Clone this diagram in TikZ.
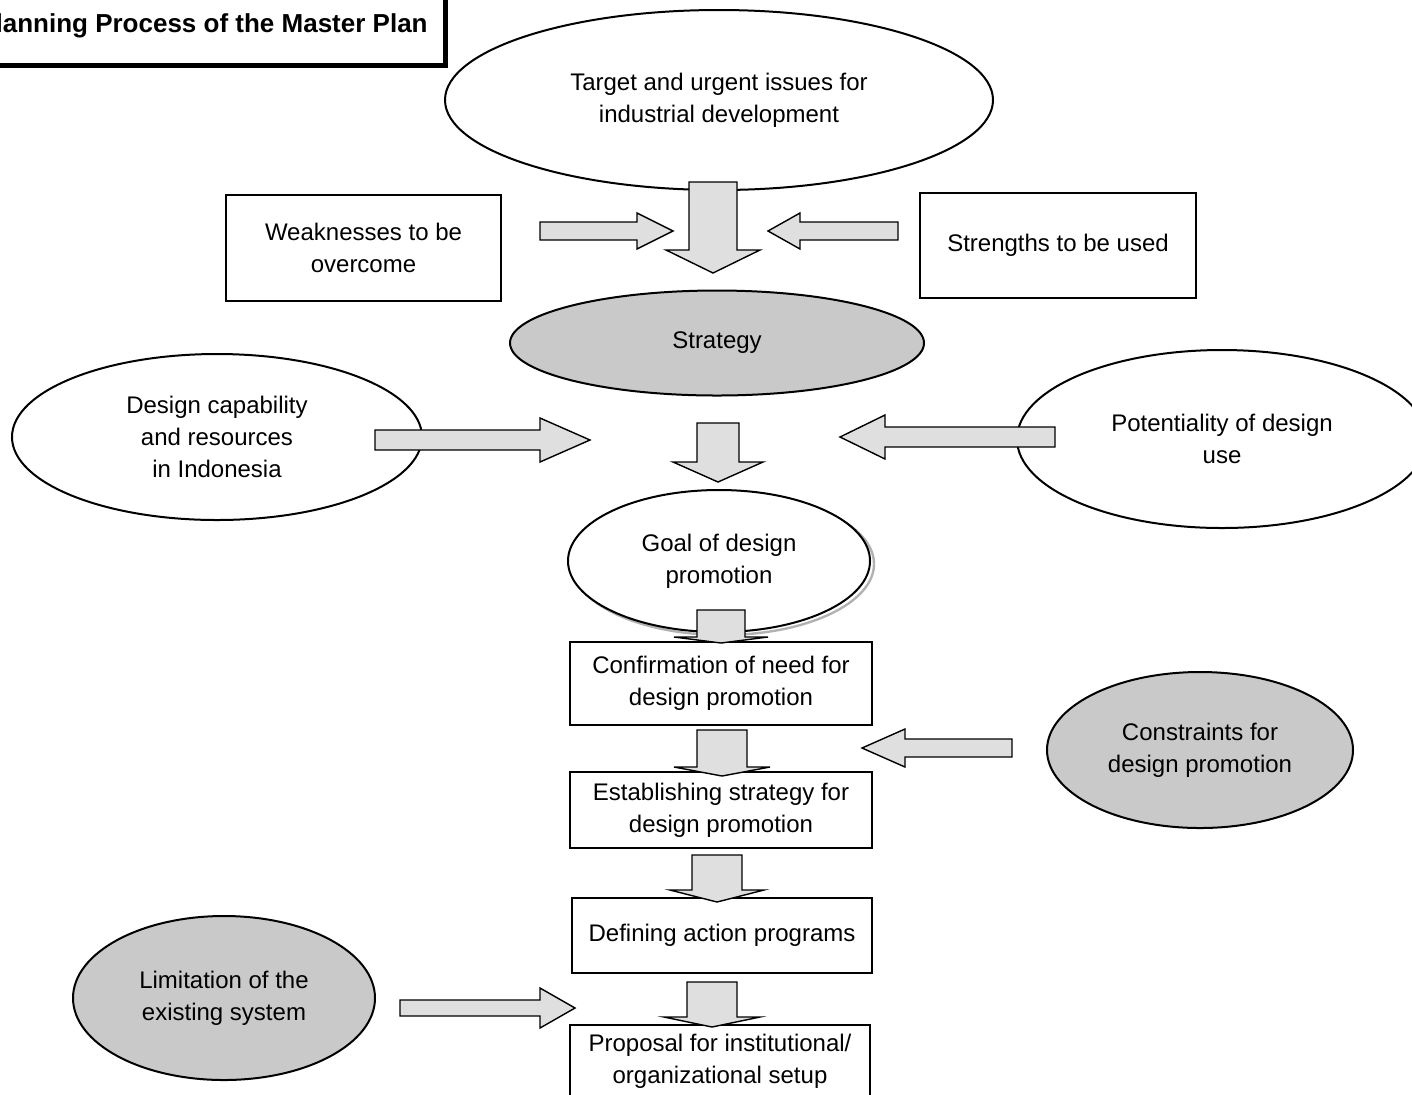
\documentclass[tikz,border=0pt]{standalone}
\usepackage{fontspec}
\setmainfont{Liberation Sans}
\usetikzlibrary{shapes.geometric}
\newcommand\hblk[6]{\draw[blk] ({#1},{#4-#5}) -- ({#3},{#4-#5}) -- ({#3},{#4-#6}) -- ({#2},{#4}) -- ({#3},{#4+#6}) -- ({#3},{#4+#5}) -- ({#1},{#4+#5}) -- cycle;}
\newcommand\vblk[6]{\draw[blk] ({#1-#5},{#2}) -- ({#1-#5},{#4}) -- ({#1-#6},{#4}) -- ({#1},{#3}) -- ({#1+#6},{#4}) -- ({#1+#5},{#4}) -- ({#1+#5},{#2}) -- cycle;}
\begin{document}
\begin{tikzpicture}[x=0.5pt,y=-0.5pt,
  txt/.style={font=\fontsize{12}{16}\selectfont, align=center},
  plainell/.style={ellipse, draw, line width=1pt, inner sep=0pt, fill=white, txt},
  shadeell/.style={plainell, fill=gray!42},
  box/.style={rectangle, draw, line width=0.8pt, inner sep=0pt, fill=white, txt},
  blk/.style={draw, line width=0.7pt, fill=gray!25, line join=miter}]
\useasboundingbox (0,0) rectangle (1412,1094);
% title
\node[anchor=base east, inner sep=0pt, font=\bfseries\fontsize{13}{16}\selectfont] (title) at (428,32) {Planning Process of the Master Plan};
\draw[line width=2.5pt] (0,65) -- (445,65) -- (445,0);
% nodes
\node[plainell, minimum width=274pt, minimum height=90pt] (target) at (719,100) {Target and urgent issues for\\industrial development};
\node[box, minimum width=137.5pt, minimum height=53pt] (weak) at (363.5,248) {Weaknesses to be\\overcome};
\node[box, minimum width=138pt, minimum height=52.5pt] (strong) at (1058,245.5) {Strengths to be used};
\node[shadeell, minimum width=207pt, minimum height=52.5pt] (strategy) at (717,343) {Strategy};
\node[plainell, minimum width=205pt, minimum height=83pt] (capab) at (217,437) {Design capability\\and resources\\in Indonesia};
\node[plainell, minimum width=205pt, minimum height=89pt] (potent) at (1222,439) {Potentiality of design\\use};
\node[ellipse, draw=gray!60, line width=1.2pt, minimum width=151pt, minimum height=71pt] (goalshadow) at (723,564) {};
\node[plainell, minimum width=151pt, minimum height=71pt] (goal) at (719,561) {Goal of design\\promotion};
\node[box, minimum width=151pt, minimum height=41.5pt] (b1) at (721,683.5) {Confirmation of need for\\design promotion};
\node[box, minimum width=151pt, minimum height=38pt] (b2) at (721,810) {Establishing strategy for\\design promotion};
\node[box, minimum width=150pt, minimum height=37.5pt] (b3) at (722,935.5) {Defining action programs};
\node[box, minimum width=150pt, minimum height=36pt] (b4) at (720,1061) {Proposal for institutional/\\organizational setup};
\node[shadeell, minimum width=153pt, minimum height=78pt] (constr) at (1200,750) {Constraints for\\design promotion};
\node[shadeell, minimum width=151pt, minimum height=82pt] (limit) at (224,998) {Limitation of the\\existing system};
% block arrows
\vblk{713}{182}{273}{250}{24}{47}
\hblk{540}{673}{637}{231}{9}{18}
\hblk{898}{768}{800}{231}{9}{18}
\hblk{375}{590}{540}{440}{10}{22}
\hblk{1055}{840}{885}{437}{10}{22}
\vblk{718}{423}{482}{462}{21}{45}
\vblk{721}{610}{643}{637}{24}{47}
\vblk{722}{730}{776}{767}{25}{48}
\vblk{717}{855}{902}{890}{25}{47}
\vblk{712}{982}{1027}{1017}{25}{48}
\hblk{1012}{862}{905}{748}{9}{19}
\hblk{400}{575}{540}{1008}{8}{20}
\end{tikzpicture}
\end{document}
